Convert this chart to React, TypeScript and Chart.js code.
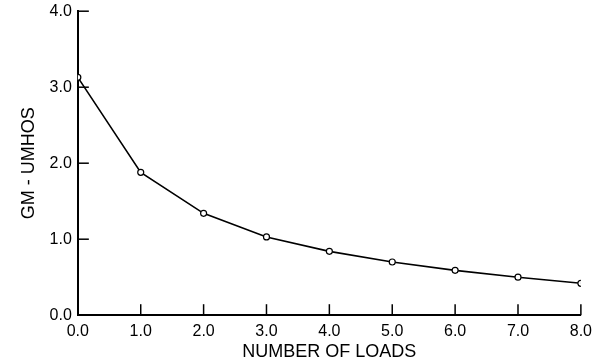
import React, { useEffect, useRef } from "react";
import { Chart, registerables } from "chart.js";

Chart.register(...registerables);

const loads = [0, 1, 2, 3, 4, 5, 6, 7, 8];
const gmUmhos = [3.13, 1.88, 1.34, 1.03, 0.84, 0.7, 0.59, 0.5, 0.42];
const xTitle = "NUMBER OF LOADS";
const yTitle = "GM - UMHOS";

const FONT = "'Liberation Sans', Arial, Helvetica, sans-serif";

const inwardTicks = {
  id: "inwardTicks",
  beforeDatasetsDraw(chart: any) {
    const ctx = chart.ctx;
    const { x, y } = chart.scales;
    const area = chart.chartArea;
    ctx.save();
    ctx.strokeStyle = "#000";
    ctx.lineWidth = 1.5;
    y.ticks.forEach((t: any) => {
      if (t.value === 0) return;
      const py = y.getPixelForValue(t.value);
      ctx.beginPath();
      ctx.moveTo(area.left, py);
      ctx.lineTo(area.left + 11, py);
      ctx.stroke();
    });
    x.ticks.forEach((t: any) => {
      if (t.value === 0) return;
      const px = x.getPixelForValue(t.value);
      ctx.beginPath();
      ctx.moveTo(px, area.bottom);
      ctx.lineTo(px, area.bottom - 11);
      ctx.stroke();
    });
    ctx.restore();
  },
};

export default function App() {
  const ref = useRef<HTMLCanvasElement | null>(null);
  useEffect(() => {
    if (!ref.current) return;
    const chart = new Chart(ref.current, {
      type: "line",
      data: {
        datasets: [
          {
            data: loads.map((l, i) => ({ x: l, y: gmUmhos[i] })),
            borderColor: "#000",
            borderWidth: 1.6,
            pointRadius: 3,
            pointBackgroundColor: "#fff",
            pointBorderColor: "#000",
            pointBorderWidth: 1.2,
            tension: 0,
          },
        ],
      },
      options: {
        animation: false,
        responsive: true,
        maintainAspectRatio: false,
        layout: { padding: { top: 0, right: 14, bottom: 0, left: 18 } },
        plugins: { legend: { display: false }, tooltip: { enabled: false } },
        scales: {
          x: {
            type: "linear",
            min: 0,
            max: 8,
            ticks: {
              stepSize: 1,
              color: "#000",
              padding: 7,
              maxRotation: 0,
              font: { family: FONT, size: 16 },
              callback: (v: any) => Number(v).toFixed(1),
            },
            grid: { display: false, drawTicks: false },
            border: { display: true, color: "#000", width: 2 },
            title: {
              display: true,
              text: xTitle,
              color: "#000",
              font: { family: FONT, size: 18 },
              padding: { top: -7, bottom: 1 },
            },
          },
          y: {
            min: 0,
            max: 4,
            ticks: {
              stepSize: 1,
              color: "#000",
              padding: 6,
              font: { family: FONT, size: 16, lineHeight: 0.65 },
              callback: (v: any) => Number(v).toFixed(1),
            },
            grid: { display: false, drawTicks: false },
            border: { display: true, color: "#000", width: 2 },
            title: {
              display: true,
              text: yTitle,
              color: "#000",
              font: { family: FONT, size: 18 },
              padding: { top: 0, bottom: 4 },
            },
          },
        },
      },
      plugins: [inwardTicks],
    });
    return () => chart.destroy();
  }, []);
  return (
    <div style={{ position: "absolute", left: 0, top: 0, width: 599, height: 364, background: "#fff" }}>
      <canvas ref={ref} />
    </div>
  );
}
